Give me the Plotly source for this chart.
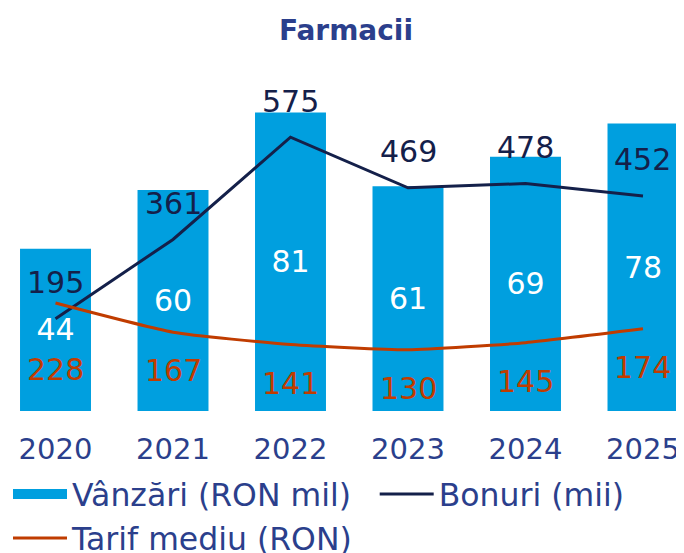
import plotly.graph_objects as go

years = ["2020", "2021", "2022", "2023", "2024", "2025"]
vanzari = [44, 60, 81, 61, 69, 78]
bonuri = [195, 361, 575, 469, 478, 452]
tarif = [228, 167, 141, 130, 145, 174]

BAR = "#009FDF"
NAVY = "#14204A"
ORANGE = "#C03C00"
TEXT = "#2B3F8C"
FONT = "Verdana, DejaVu Sans, sans-serif"

# the page body adds an 8px offset; the figure is sized to fill the rest
W, H = 676, 545
top_px, bot_px = 52, 403
plot_h = bot_px - top_px
bar_ppu = 3.685
line_ppu = 0.478
y2_off = 1.0 / line_ppu

fig = go.Figure()
fig.add_trace(go.Bar(
    x=years, y=vanzari, name="Vânzări (RON mil)", showlegend=False,
    marker=dict(color=BAR, line=dict(width=0)),
    text=[str(v) for v in vanzari], textposition="inside",
    insidetextanchor="middle", textangle=0,
    textfont=dict(family=FONT, size=30, color="white"),
    yaxis="y",
))
# legend swatch for the bars (wide rectangle as in the reference)
fig.add_trace(go.Scatter(
    x=years, y=[None] * len(years), name="Vânzări (RON mil)", mode="lines",
    line=dict(color=BAR, width=15), legend="legend", hoverinfo="skip",
))
fig.add_trace(go.Scatter(
    x=years, y=bonuri, name="Bonuri (mii)", mode="lines",
    line=dict(color=NAVY, width=3), yaxis="y2", legend="legend2",
))
fig.add_trace(go.Scatter(
    x=years, y=tarif, name="Tarif mediu (RON)", mode="lines",
    line=dict(color=ORANGE, width=3, shape="spline", smoothing=0.5),
    yaxis="y2", legend="legend",
))

annotations = []
for i, v in enumerate(bonuri):
    annotations.append(dict(x=i, y=v, xref="x", yref="y2", text=str(v),
                            showarrow=False, yshift=36,
                            font=dict(family=FONT, size=30, color=NAVY)))
tarif_shift = [-38.5] * len(tarif)
tarif_shift[0] = -66.5
for i, (v, s) in enumerate(zip(tarif, tarif_shift)):
    annotations.append(dict(x=i, y=v, xref="x", yref="y2", text=str(v),
                            showarrow=False, yshift=s,
                            font=dict(family=FONT, size=30, color=ORANGE)))

legend_common = dict(orientation="v", xref="container", yref="container",
                     xanchor="left", yanchor="top",
                     font=dict(family=FONT, size=31.5, color=TEXT),
                     itemwidth=54, bgcolor="rgba(0,0,0,0)",
                     tracegroupgap=0)

fig.update_layout(
    width=W, height=H,
    margin=dict(l=0, r=0, t=top_px, b=H - bot_px, pad=0, autoexpand=False),
    paper_bgcolor="white", plot_bgcolor="white",
    bargap=0.396,
    title=dict(text="<b>Farmacii</b>", x=0.5, xanchor="center",
               y=1 - 22 / H, yanchor="middle", yref="container",
               font=dict(family=FONT, size=28, color=TEXT)),
    xaxis=dict(type="category", range=[-0.4043, 5.349], showgrid=False,
               showline=False, zeroline=False, ticks="",
               tickfont=dict(family=FONT, size=29, color=TEXT),
               ticklabelstandoff=18),
    yaxis=dict(visible=False, range=[0, plot_h / bar_ppu], showgrid=False),
    yaxis2=dict(visible=False, overlaying="y", side="right",
                range=[y2_off, y2_off + plot_h / line_ppu], showgrid=False),
    showlegend=True,
    legend=dict(x=0.0, y=1 - 459 / H, **legend_common),
    legend2=dict(x=366.7 / W, y=1 - 459 / H, **legend_common),
    annotations=annotations,
)

fig.write_html("out.html")
